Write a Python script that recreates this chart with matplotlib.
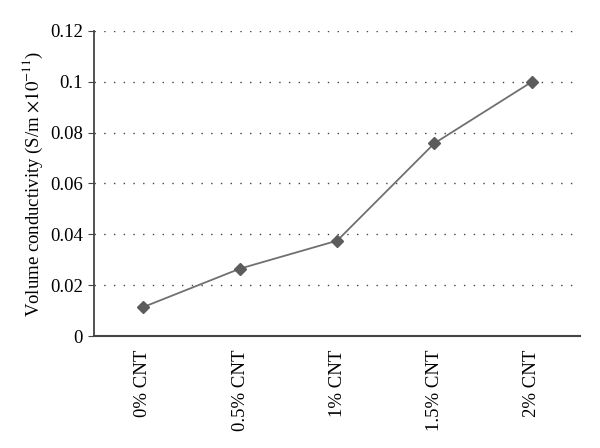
import matplotlib
matplotlib.use("Agg")
import matplotlib.pyplot as plt
import numpy as np

# Data
categories = ["0% CNT", "0.5% CNT", "1% CNT", "1.5% CNT", "2% CNT"]
conductivity = [0.0113, 0.0265, 0.0375, 0.0758, 0.0999]
yticks = [0, 0.02, 0.04, 0.06, 0.08, 0.1, 0.12]
ytick_labels = ["0", "0.02", "0.04", "0.06", "0.08", "0.1", "0.12"]

plt.rcParams["font.family"] = ["Liberation Serif", "DejaVu Serif"]
plt.rcParams["mathtext.fontset"] = "stix"

fig = plt.figure(figsize=(6, 4.48), dpi=100)
ax = fig.add_axes([0.157, 0.25, 0.81, 0.681])

x = np.arange(len(categories))
ax.plot(x, conductivity, color="#707070", linewidth=1.3, marker="D",
        markersize=6.5, markerfacecolor="#5c5c5c", markeredgecolor="#5c5c5c")

ax.set_xlim(-0.5, len(categories) - 0.5)
ax.set_ylim(0, 0.12)
ax.set_yticks(yticks)
ax.set_yticklabels(ytick_labels)
ax.set_xticks(x)
ax.set_xticklabels(categories, rotation=90)

# sparse dotted horizontal gridlines
ax.grid(axis="y", linestyle=(0, (1, 6)), color="#444444", linewidth=1.0)
ax.set_axisbelow(True)

for side in ["top", "right"]:
    ax.spines[side].set_visible(False)
ax.spines["left"].set_color("#444444")
ax.spines["bottom"].set_color("#444444")
ax.spines["left"].set_linewidth(1.3)
ax.spines["bottom"].set_linewidth(1.5)

ax.tick_params(axis="y", labelsize=13.5, length=4, color="#444444", pad=4)
ax.tick_params(axis="x", labelsize=13.5, length=0, pad=10)

ax.set_ylabel(r"Volume conductivity (S/m $\times 10^{-11}$)", fontsize=13.5)

fig.savefig("out.png", dpi=100)
